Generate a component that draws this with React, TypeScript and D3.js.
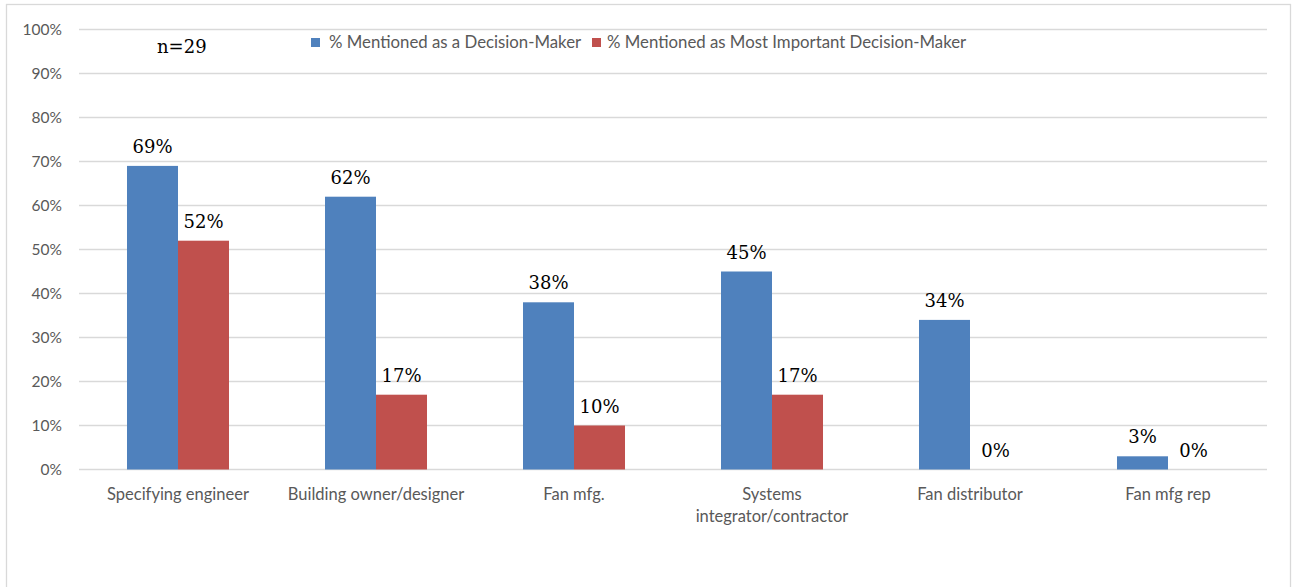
import React from "react";
import * as d3 from "d3";

const categories: string[][] = [
  ["Specifying engineer"],
  ["Building owner/designer"],
  ["Fan mfg."],
  ["Systems", "integrator/contractor"],
  ["Fan distributor"],
  ["Fan mfg rep"],
];
const seriesNames = [
  "% Mentioned as a Decision-Maker",
  "% Mentioned as Most Important Decision-Maker",
];
const decisionMaker = [69, 62, 38, 45, 34, 3];
const mostImportant = [52, 17, 10, 17, 0, 0];
const yTicks = [0, 10, 20, 30, 40, 50, 60, 70, 80, 90, 100];
const sampleNote = "n=29";

const colors = ["#4F81BD", "#C0504D"];

export default function App() {
  const W = 1292;
  const H = 587;
  const left = 79;
  const right = 1267;
  const top = 29.5;
  const bottom = 469.5;

  const keys = categories.map((c) => c.join(" "));
  const x0 = d3.scaleBand<string>().domain(keys).range([left, right]).padding(0);
  const bw = x0.bandwidth();
  const x1 = d3
    .scaleBand<number>()
    .domain([0, 1])
    .range([bw * 0.2424, bw * 0.7576])
    .padding(0);
  const y = d3.scaleLinear().domain([0, 100]).range([bottom, top]);
  const series = [decisionMaker, mostImportant];

  const sans = "Lato, 'Open Sans', sans-serif";
  const serif = "'DejaVu Serif', serif";

  return (
    <svg
      width={W}
      height={H}
      style={{ position: "absolute", left: 0, top: 0 }}
      viewBox={`0 0 ${W} ${H}`}
    >
      <rect x={0} y={0} width={W} height={H} fill="#fff" />
      <rect
        x={6.5}
        y={4.5}
        width={1284}
        height={600}
        fill="none"
        stroke="#D9D9D9"
        strokeWidth={1.3}
      />
      {yTicks.map((t) => (
        <g key={t}>
          <line
            x1={left}
            x2={right}
            y1={y(t)}
            y2={y(t)}
            stroke="#D9D9D9"
            strokeWidth={1.5}
          />
          <text
            x={62}
            y={y(t)}
            dy="0.35em"
            textAnchor="end"
            fontFamily={sans}
            fontSize={15.5}
            fill="#595959"
          >
            {t}%
          </text>
        </g>
      ))}
      {keys.map((k, i) => (
        <g key={k} transform={`translate(${x0(k)},0)`}>
          {series.map((s, j) => {
            const v = s[i];
            const bx = x1(j)!;
            const w = x1.bandwidth();
            return (
              <g key={j}>
                {v > 0 && (
                  <rect
                    x={bx}
                    y={y(v)}
                    width={w}
                    height={y(0) - y(v)}
                    fill={colors[j]}
                  />
                )}
                <text
                  x={bx + w / 2}
                  y={y(v) - 13}
                  textAnchor="middle"
                  fontFamily={serif}
                  fontSize={18}
                  fill="#000"
                >
                  {v}%
                </text>
              </g>
            );
          })}
          {categories[i].map((line, li) => (
            <text
              key={li}
              x={bw / 2}
              y={499.5 + li * 22}
              textAnchor="middle"
              fontFamily={sans}
              fontSize={16.5}
              fill="#595959"
            >
              {line}
            </text>
          ))}
        </g>
      ))}
      <text x={157} y={53} fontFamily={serif} fontSize={18} fill="#000">
        {sampleNote}
      </text>
      <g>
        <rect x={311} y={38} width={9} height={9} fill={colors[0]} />
        <text
          x={329}
          y={42.5}
          dy="0.35em"
          fontFamily={sans}
          fontSize={16.8}
          fill="#595959"
        >
          {seriesNames[0]}
        </text>
        <rect x={592} y={38} width={9} height={9} fill={colors[1]} />
        <text
          x={607}
          y={42.5}
          dy="0.35em"
          fontFamily={sans}
          fontSize={16.8}
          fill="#595959"
        >
          {seriesNames[1]}
        </text>
      </g>
    </svg>
  );
}
